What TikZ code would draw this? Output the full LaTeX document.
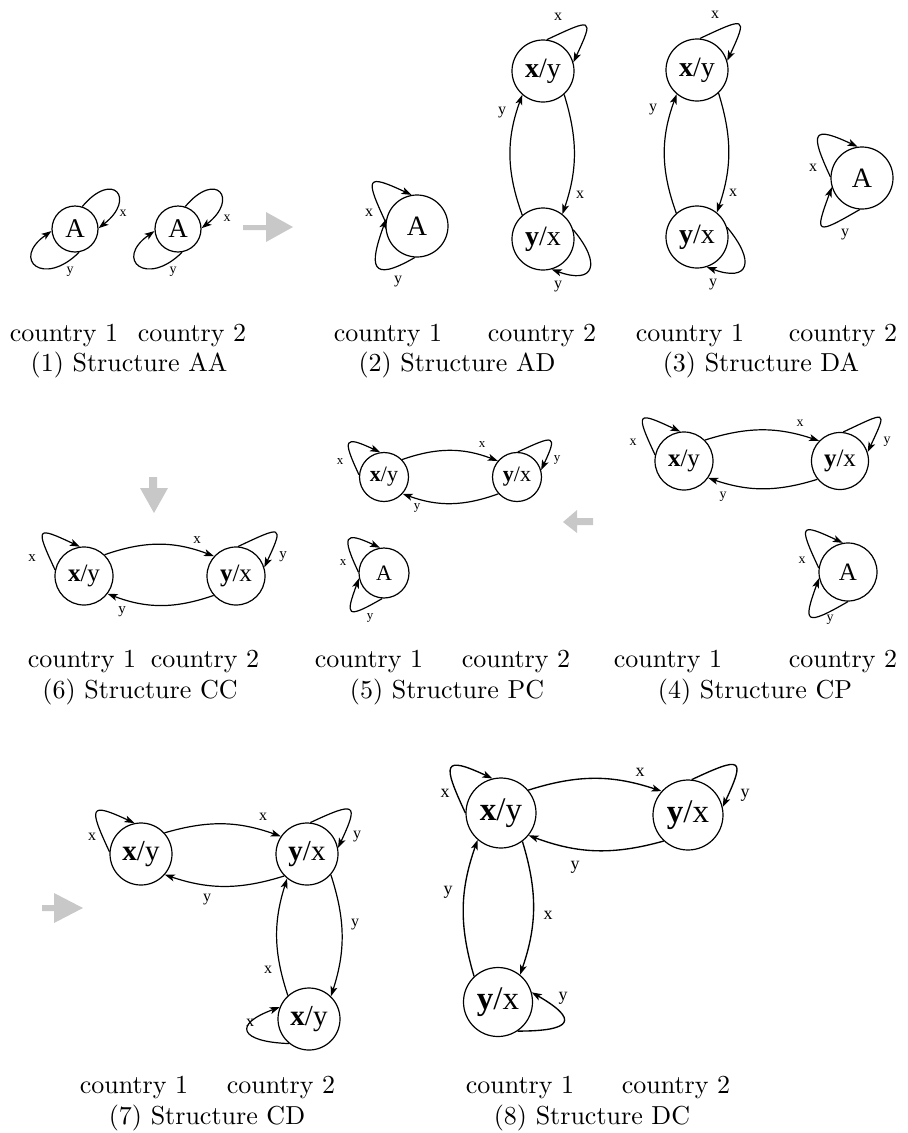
\documentclass[tikz,border=0pt]{standalone}
\usepackage{fontspec}
\usepackage{graphicx}
\usetikzlibrary{arrows.meta}
\newfontfamily\tms{Liberation Serif}
\newcommand\mynf[1]{\tms\fontsize{#1}{#1}\selectfont}
\newcommand\capt[1]{\scalebox{2.6}{\fontsize{10}{12}\selectfont #1}}
\definecolor{arrowgray}{RGB}{200,200,200}
\tikzset{
  st/.style={circle,draw,line width=1.2pt,inner sep=0pt,minimum size=#1},
  ed/.style={line width=1.2pt,-{Stealth[length=10pt,width=7pt,inset=2.5pt]}},
  el/.style={font=\mynf{#1},inner sep=0pt},
  ct/.style={anchor=base,inner sep=0pt},
  garrow/.style={fill=arrowgray,draw=none}
}
\begin{document}
\begin{tikzpicture}[x=1pt,y=1pt]
\useasboundingbox (0,0) rectangle (908,-1133);

% ---------- Panel 1 : AA
\node[st=46,font=\mynf{27}] (p1a) at (75,-229) {A};
\node[st=46,font=\mynf{27}] (p1b) at (178,-229) {A};
\draw[ed] (p1a.72) .. controls +(50:48) and +(38:48) .. (p1a.2);
\draw[ed] (p1a.280) .. controls +(225:50) and +(215:50) .. (p1a.185);
\draw[ed] (p1b.72) .. controls +(50:48) and +(38:48) .. (p1b.2);
\draw[ed] (p1b.280) .. controls +(225:50) and +(215:50) .. (p1b.185);
\node[el=14] (p1l1) at (123,-213) {x};
\node[el=14] (p1l2) at (70,-272) {y};
\node[el=14] (p1l3) at (227,-218) {x};
\node[el=14] (p1l4) at (173,-272) {y};
\fill[garrow] (243,-225) -- (266,-225) -- (266,-212) -- (293,-227) -- (266,-242) -- (266,-230) -- (243,-230) -- cycle;
\node[ct] (p1c1) at (64,-341) {\capt{country 1}};
\node[ct] (p1c2) at (192,-341) {\capt{country 2}};
\node[ct] (p1t) at (129,-371) {\capt{(1) Structure AA}};

% ---------- Panel 2 : AD
\node[st=62,font=\mynf{28}] (p2a) at (417,-226) {A};
\node[st=62,font=\mynf{28}] (p2xy) at (543,-71) {{\bfseries x}/y};
\node[st=62,font=\mynf{28}] (p2yx) at (543,-239) {{\bfseries y}/x};
\draw[ed] (p2a.173) .. controls +(115:50) and +(155:50) .. (p2a.100);
\draw[ed] (p2a.266) .. controls +(210:52) and +(250:50) .. (p2a.167);
\draw[ed] (p2xy.83) .. controls +(25:50) and +(65:50) .. (p2xy.16);
\draw[ed] (p2xy.-48) to[bend left=18] (p2yx.52);
\draw[ed] (p2yx.131) to[bend left=20] (p2xy.229);
\draw[ed] (p2yx.17) .. controls +(-50:45) and +(-20:45) .. (p2yx.-74);
\node[el=16] (p2l1) at (369,-213) {x};
\node[el=16] (p2l2) at (398,-282) {y};
\node[el=16] (p2l3) at (558,-17) {x};
\node[el=16] (p2l4) at (580,-195) {x};
\node[el=16] (p2l5) at (502,-113) {y};
\node[el=16] (p2l6) at (558,-287) {y};
\node[ct] (p2c1) at (388,-341) {\capt{country 1}};
\node[ct] (p2c2) at (542,-341) {\capt{country 2}};
\node[ct] (p2t) at (457,-371) {\capt{(2) Structure AD}};

% ---------- Panel 3 : DA
\node[st=62,font=\mynf{28}] (p3xy) at (697,-70) {{\bfseries x}/y};
\node[st=62,font=\mynf{28}] (p3yx) at (697,-237) {{\bfseries y}/x};
\node[st=62,font=\mynf{28}] (p3a) at (862,-178) {A};
\draw[ed] (p3xy.85) .. controls +(25:50) and +(65:50) .. (p3xy.17);
\draw[ed] (p3xy.-47) to[bend left=18] (p3yx.51);
\draw[ed] (p3yx.131) to[bend left=20] (p3xy.230);
\draw[ed] (p3yx.18) .. controls +(-50:45) and +(-20:45) .. (p3yx.-72);
\draw[ed] (p3a.178) .. controls +(115:50) and +(155:50) .. (p3a.98);
\draw[ed] (p3a.266) .. controls +(210:52) and +(250:50) .. (p3a.197);
\node[el=16] (p3l1) at (715,-15) {x};
\node[el=16] (p3l2) at (733,-193) {x};
\node[el=16] (p3l3) at (653,-110) {y};
\node[el=16] (p3l4) at (713,-285) {y};
\node[el=16] (p3l5) at (813,-168) {x};
\node[el=16] (p3l6) at (845,-235) {y};
\node[ct] (p3c1) at (690,-341) {\capt{country 1}};
\node[ct] (p3c2) at (843,-341) {\capt{country 2}};
\node[ct] (p3t) at (761,-371) {\capt{(3) Structure DA}};

% ---------- Panel 6 : CC
\fill[garrow] (149,-477) -- (157,-477) -- (157,-488) -- (168,-488) -- (154,-513) -- (140,-488) -- (149,-488) -- cycle;
\node[st=58,font=\mynf{25}] (p6xy) at (84,-576) {{\bfseries x}/y};
\node[st=58,font=\mynf{25}] (p6yx) at (236,-576) {{\bfseries y}/x};
\draw[ed] (p6xy.46) to[bend left=20] (p6yx.138);
\draw[ed] (p6yx.221) to[bend left=20] (p6xy.-37);
\draw[ed] (p6xy.168) .. controls +(115:48) and +(155:48) .. (p6xy.98);
\draw[ed] (p6yx.86) .. controls +(25:48) and +(65:48) .. (p6yx.17);
\node[el=15] (p6l1) at (197,-540) {x};
\node[el=15] (p6l2) at (122,-612) {y};
\node[el=15] (p6l3) at (32,-558) {x};
\node[el=15] (p6l4) at (283,-557) {y};
\node[ct] (p6c1) at (82,-667) {\capt{country 1}};
\node[ct] (p6c2) at (205,-667) {\capt{country 2}};
\node[ct] (p6t) at (140,-698) {\capt{(6) Structure CC}};

% ---------- Panel 5 : PC
\node[st=49,font=\mynf{22}] (p5xy) at (384,-477) {{\bfseries x}/y};
\node[st=49,font=\mynf{22}] (p5yx) at (517,-477) {{\bfseries y}/x};
\node[st=50,font=\mynf{22}] (p5a) at (384,-573) {A};
\draw[ed] (p5xy.44) to[bend left=20] (p5yx.140);
\draw[ed] (p5yx.222) to[bend left=20] (p5xy.-42);
\draw[ed] (p5xy.175) .. controls +(115:40) and +(155:40) .. (p5xy.99);
\draw[ed] (p5yx.88) .. controls +(25:40) and +(65:40) .. (p5yx.16);
\draw[ed] (p5a.178) .. controls +(115:40) and +(155:40) .. (p5a.99);
\draw[ed] (p5a.266) .. controls +(210:42) and +(250:40) .. (p5a.192);
\node[el=13] (p5l1) at (482,-445) {x};
\node[el=13] (p5l2) at (417,-508) {y};
\node[el=13] (p5l3) at (340,-462) {x};
\node[el=13] (p5l4) at (557,-460) {y};
\node[el=13] (p5l5) at (343,-563) {x};
\node[el=13] (p5l6) at (370,-618) {y};
\fill[garrow] (593,-518) -- (577,-518) -- (577,-510) -- (563,-522) -- (577,-533) -- (577,-525) -- (593,-525) -- cycle;
\node[ct] (p5c1) at (369,-667) {\capt{country 1}};
\node[ct] (p5c2) at (516,-667) {\capt{country 2}};
\node[ct] (p5t) at (447,-698) {\capt{(5) Structure PC}};

% ---------- Panel 4 : CP
\node[st=58,font=\mynf{25}] (p4xy) at (684,-461) {{\bfseries x}/y};
\node[st=57,font=\mynf{25}] (p4yx) at (840,-461) {{\bfseries y}/x};
\node[st=58,font=\mynf{25}] (p4a) at (848,-572) {A};
\draw[ed] (p4xy.45) to[bend left=18] (p4yx.136);
\draw[ed] (p4yx.219) to[bend left=18] (p4xy.-35);
\draw[ed] (p4xy.168) .. controls +(115:48) and +(155:48) .. (p4xy.97);
\draw[ed] (p4yx.84) .. controls +(25:48) and +(65:48) .. (p4yx.18);
\draw[ed] (p4a.172) .. controls +(115:48) and +(155:48) .. (p4a.100);
\draw[ed] (p4a.270) .. controls +(210:50) and +(250:48) .. (p4a.192);
\node[el=14] (p4l1) at (800,-423) {x};
\node[el=14] (p4l2) at (723,-497) {y};
\node[el=14] (p4l3) at (633,-442) {x};
\node[el=14] (p4l4) at (887,-442) {y};
\node[el=14] (p4l5) at (802,-560) {x};
\node[el=14] (p4l6) at (830,-620) {y};
\node[ct] (p4c1) at (668,-667) {\capt{country 1}};
\node[ct] (p4c2) at (843,-667) {\capt{country 2}};
\node[ct] (p4t) at (755,-698) {\capt{(4) Structure CP}};

% ---------- Panel 7 : CD
\fill[garrow] (42,-905) -- (54,-905) -- (54,-893) -- (83,-908) -- (54,-923) -- (54,-911) -- (42,-911) -- cycle;
\node[st=62,font=\mynf{29}] (p7a) at (141,-854) {{\bfseries x}/y};
\node[st=62,font=\mynf{29}] (p7b) at (307,-854) {{\bfseries y}/x};
\node[st=62,font=\mynf{29}] (p7c) at (309,-1019) {{\bfseries x}/y};
\draw[ed] (p7a.42) to[bend left=18] (p7b.146);
\draw[ed] (p7b.224) to[bend left=18] (p7a.-41);
\draw[ed] (p7a.176) .. controls +(115:50) and +(155:50) .. (p7a.102);
\draw[ed] (p7b.84) .. controls +(25:50) and +(65:50) .. (p7b.11);
\draw[ed] (p7b.-41) to[bend left=18] (p7c.46);
\draw[ed] (p7c.132) to[bend left=18] (p7b.231);
\draw[ed] (p7c.231) .. controls +(178:50) and +(200:50) .. (p7c.158);
\node[el=16] (p7l1) at (263,-817) {x};
\node[el=16] (p7l2) at (207,-900) {y};
\node[el=16] (p7l3) at (92,-837) {x};
\node[el=16] (p7l4) at (357,-837) {y};
\node[el=16] (p7l5) at (355,-925) {y};
\node[el=16] (p7l6) at (268,-970) {x};
\node[el=16] (p7l7) at (250,-1023) {x};
\node[ct] (p7c1) at (134,-1093) {\capt{country 1}};
\node[ct] (p7c2) at (281,-1093) {\capt{country 2}};
\node[ct] (p7t) at (207,-1124) {\capt{(7) Structure CD}};

% ---------- Panel 8 : DC
\begin{scope}[ed/.append style={line width=1.35pt}]
\node[st=70,font=\mynf{33}] (p8a) at (501,-813) {{\bfseries x}/y};
\node[st=70,font=\mynf{33}] (p8b) at (688,-815) {{\bfseries y}/x};
\node[st=69,font=\mynf{33}] (p8c) at (498,-1002) {{\bfseries y}/x};
\draw[ed] (p8a.40) to[bend left=18] (p8b.138);
\draw[ed] (p8b.227) to[bend left=18] (p8a.-39);
\draw[ed] (p8a.180) .. controls +(115:55) and +(155:55) .. (p8a.104);
\draw[ed] (p8b.84) .. controls +(25:55) and +(65:55) .. (p8b.13);
\draw[ed] (p8a.-53) to[bend left=18] (p8c.51);
\draw[ed] (p8c.133) to[bend left=18] (p8a.229);
\draw[ed] (p8c.-56) .. controls +(0:55) and +(-30:55) .. (p8c.16);
\end{scope}
\node[el=18] (p8l1) at (640,-772) {x};
\node[el=18] (p8l2) at (575,-867) {y};
\node[el=18] (p8l3) at (445,-793) {x};
\node[el=18] (p8l4) at (745,-795) {y};
\node[el=18] (p8l5) at (548,-915) {x};
\node[el=18] (p8l6) at (448,-892) {y};
\node[el=18] (p8l7) at (563,-998) {y};
\node[ct] (p8c1) at (520,-1093) {\capt{country 1}};
\node[ct] (p8c2) at (676,-1093) {\capt{country 2}};
\node[ct] (p8t) at (592,-1124) {\capt{(8) Structure DC}};
\end{tikzpicture}
\end{document}
